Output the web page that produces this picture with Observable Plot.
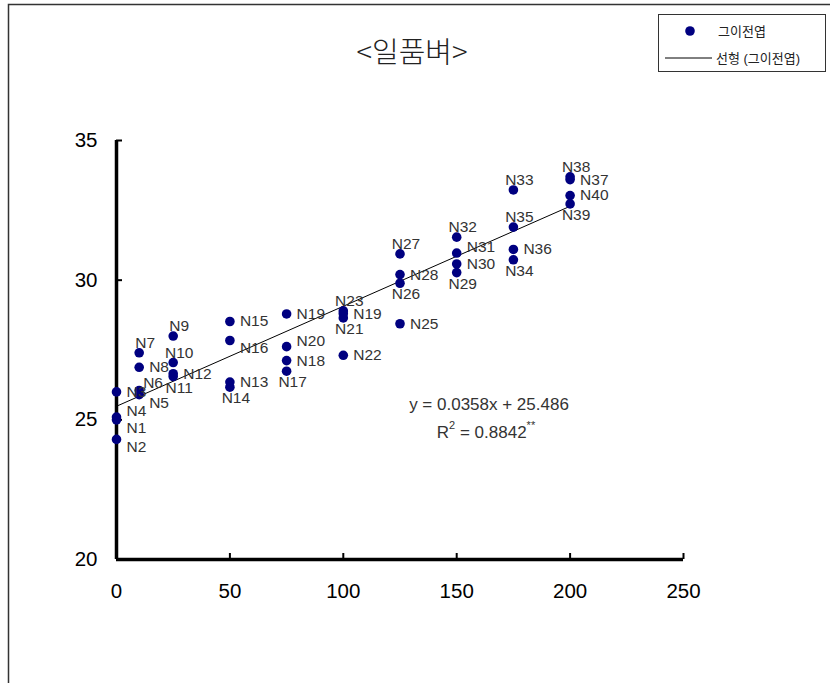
<!DOCTYPE html>
<html>
<head>
<meta charset="utf-8">
<script src="https://cdn.jsdelivr.net/npm/d3@7"></script>
<script src="https://cdn.jsdelivr.net/npm/@observablehq/plot@0.6"></script>
<style>
  body { margin: 0; background: #fff; }
  #chart svg { display: block; }
</style>
</head>
<body>
<div id="chart"></div>
<script>
// Line labels (N1…N40) with the treatment level (x) and measured value (y)
const names = ["N1","N2","N3","N4","N5","N6","N7","N8","N9","N10",
               "N11","N12","N13","N14","N15","N16","N17","N18","N19","N20",
               "N21","N22","N23","N19","N25","N26","N27","N28","N29","N30",
               "N31","N32","N33","N34","N35","N36","N37","N38","N39","N40"];
const amounts = [0, 0, 0, 0, 10, 10, 10, 10, 25, 25,
                 25, 25, 50, 50, 50, 50, 75, 75, 75, 75,
                 100, 100, 100, 100, 125, 125, 125, 125, 150, 150,
                 150, 150, 175, 175, 175, 175, 200, 200, 200, 200];
const values = [25.0, 24.3, 26.0, 25.1, 25.9, 26.05, 27.4, 26.88, 28.0, 27.05,
                26.55, 26.65, 26.35, 26.17, 28.52, 27.84, 26.74, 27.12, 28.79, 27.62,
                28.65, 27.31, 28.9, 28.8, 28.44, 29.89, 30.94, 30.2, 30.27, 30.58,
                30.97, 31.54, 33.23, 30.73, 31.9, 31.1, 33.6, 33.7, 32.73, 33.03];
// Where each point label sits: r = right, ru/rd = right, nudged up/down,
// rn = right, close in and nudged up, a = above, b = below
const placement = ["rd","rd","r","ru","rd","rn","a","r","a","a",
                   "b","r","r","b","r","rd","b","r","r","ru",
                   "b","r","a","r","r","b","a","r","b","r",
                   "ru","a","a","b","a","r","r","a","b","r"];

const xTicks = [0, 50, 100, 150, 200, 250];
const yTicks = [20, 25, 30, 35];

// Fitted linear trend
const slope = 0.0358;
const intercept = 25.486;
const rSquared = "0.8842";

const title = "<일품벼>";
const seriesName = "그이전엽";
const fitName = "선형 (그이전엽)";

const points = names.map((name, i) => ({name, x: amounts[i], y: values[i], place: placement[i]}));
const fitLine = d3.extent(amounts).map(x => ({x, y: intercept + slope * x}));

const font = "'Liberation Sans', Arial, 'Noto Sans CJK KR', sans-serif";
const navy = "#000080";
const labelColor = "#333";

const offsets = {
  r:  {dx: 10, dy: 0,   textAnchor: "start"},
  ru: {dx: 10, dy: -6,  textAnchor: "start"},
  rd: {dx: 10, dy: 8,   textAnchor: "start"},
  rn: {dx: 4,  dy: -7,  textAnchor: "start"},
  a:  {dx: 6,  dy: -10, textAnchor: "middle"},
  b:  {dx: 6,  dy: 11,  textAnchor: "middle"}
};

const labelMarks = Object.entries(offsets).map(([code, o]) =>
  Plot.text(points.filter(d => d.place === code), {
    x: "x", y: "y", text: "name",
    dx: o.dx, dy: o.dy, textAnchor: o.textAnchor,
    fontSize: 15.5, fill: labelColor
  })
);

const chart = Plot.plot({
  width: 830,
  height: 683,
  marginLeft: 116,
  marginRight: 147,
  marginTop: 140,
  marginBottom: 124,
  style: {fontFamily: font, background: "#fff", color: "#000"},
  x: {domain: [0, 250], label: null},
  y: {domain: [20, 35], label: null},
  marks: [
    Plot.axisY({ticks: yTicks, tickSize: -6, tickPadding: 25, strokeWidth: 2, fontSize: 20.5, label: null}),
    Plot.axisX({ticks: xTicks, tickSize: -6, tickPadding: 30, strokeWidth: 2, fontSize: 20.5, label: null}),
    Plot.ruleX([0], {y1: 20, y2: 35, strokeWidth: 3.5}),
    Plot.ruleY([20], {x1: 0, x2: 250, strokeWidth: 3.5}),
    Plot.line(fitLine, {x: "x", y: "y", stroke: "#000", strokeWidth: 1}),
    Plot.dot(points, {x: "x", y: "y", r: 4.8, fill: navy, stroke: "none"}),
    ...labelMarks
  ]
});

const svg = d3.select(chart);

// Outer chart-area border (left and top edges)
svg.insert("path", ":first-child")
  .attr("d", "M8.5,683V4.5H830")
  .attr("fill", "none")
  .attr("stroke", "#333")
  .attr("stroke-width", 1.5);

// Title
svg.append("text")
  .attr("x", 412).attr("y", 50)
  .attr("text-anchor", "middle")
  .attr("dominant-baseline", "central")
  .attr("font-family", "'Noto Sans CJK KR', sans-serif")
  .attr("font-weight", 300)
  .attr("font-size", 29)
  .attr("fill", "#222")
  .text(title);

// Legend
const legend = svg.append("g")
  .attr("font-family", font).attr("font-size", 13).attr("fill", "#222")
  .attr("text-anchor", "start");
legend.append("rect")
  .attr("x", 658.5).attr("y", 14.5).attr("width", 167).attr("height", 57)
  .attr("fill", "#fff").attr("stroke", "#333").attr("stroke-width", 1);
legend.append("circle").attr("cx", 690).attr("cy", 31).attr("r", 4.8).attr("fill", navy);
legend.append("text").attr("x", 718).attr("y", 31).attr("dominant-baseline", "central").text(seriesName);
legend.append("line").attr("x1", 665).attr("x2", 712).attr("y1", 58).attr("y2", 58)
  .attr("stroke", "#000").attr("stroke-width", 1);
legend.append("text").attr("x", 716).attr("y", 58).attr("dominant-baseline", "central").text(fitName);

// Trend equation and coefficient of determination
const eq = svg.append("g").attr("font-family", font).attr("font-size", 17).attr("fill", labelColor)
  .attr("text-anchor", "middle");
eq.append("text").attr("x", 489).attr("y", 404).attr("dominant-baseline", "central")
  .text(`y = ${slope}x + ${intercept}`);
const r2 = eq.append("text").attr("x", 486).attr("y", 432).attr("dominant-baseline", "central");
r2.append("tspan").text("R");
r2.append("tspan").attr("font-size", 11).attr("dy", -7).text("2");
r2.append("tspan").attr("dy", 7).text(` = ${rSquared}`);
r2.append("tspan").attr("font-size", 11).attr("dy", -7).text("**");

document.getElementById("chart").appendChild(chart);
</script>
</body>
</html>
